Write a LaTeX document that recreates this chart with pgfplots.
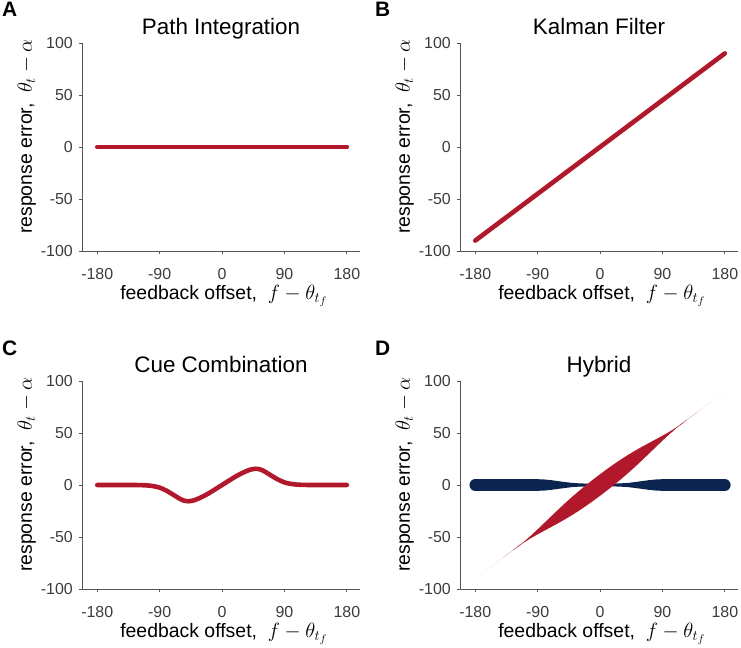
\documentclass[border=0pt]{standalone}
\usepackage{fontspec}
\setmainfont{Liberation Sans}
\usepackage{pgfplots}
\pgfplotsset{compat=1.18}
\definecolor{pred}{RGB}{178,24,43}
\definecolor{pnavy}{RGB}{12,36,80}
\definecolor{axgray}{RGB}{85,85,85}
\definecolor{tkgray}{RGB}{60,60,60}
\pgfplotsset{
  panel/.style={
    width=278bp, height=208bp, scale only axis,
    xmin=-202, xmax=199, ymin=-100, ymax=100,
    axis x line*=bottom, axis y line*=left,
    axis line style={draw=axgray, line width=0.75bp, -},
    xtick={-180,-90,0,90,180}, xticklabels={-180,-90,0,90,180},
    ytick={-100,-50,0,50,100}, yticklabels={-100,-50,0,50,100},
    tick align=outside, major tick length=3.3bp,
    tick style={draw=axgray, line width=0.75bp},
    xticklabel style={font=\fontsize{16}{16}\selectfont, text=tkgray, anchor=base, inner sep=0pt, yshift=-24.7bp},
    yticklabel style={font=\fontsize{16}{16}\selectfont, text=tkgray, anchor=east, inner sep=0pt, xshift=-5.7bp},
    xlabel={feedback offset,\ \ {\fontsize{22}{22}\selectfont$f-\theta_{t_f}$}},
    ylabel={response error,\ \ {\fontsize{22}{22}\selectfont$\theta_t-\alpha$}},
    xlabel style={font=\fontsize{19.5}{19.5}\selectfont, at={(axis description cs:0.51,-0.231)}, anchor=base, inner sep=0pt},
    ylabel style={font=\fontsize{19.5}{19.5}\selectfont, at={(axis description cs:-0.1799,0.55)}, anchor=base, inner sep=0pt},
    title style={font=\fontsize{22.5}{22.5}\selectfont, at={(axis description cs:0.5,1)}, anchor=base, yshift=2.5bp, inner sep=0pt},
    clip=false,
  },
  redline/.style={draw=pred, line width=4.6bp, line cap=round, no markers},
  tail/.style={draw=pred, no markers},
}
\begin{document}
\begin{tikzpicture}
\useasboundingbox (0,0) rectangle (741bp,-648bp);
% A
\begin{axis}[panel, at={(82bp,-251bp)}, anchor=south west, title={Path Integration}]
\addplot[redline] coordinates {(-180,0) (180,0)};
\end{axis}
% B
\begin{axis}[panel, at={(460bp,-251bp)}, anchor=south west, title={Kalman Filter}]
\addplot[redline] coordinates {(-180,-90) (180,90)};
\end{axis}
% C
\begin{axis}[panel, at={(82bp,-589bp)}, anchor=south west, title={Cue Combination}]
\addplot[redline, smooth] coordinates {
(-180,0) (-130,0) (-120,-0.1) (-110,-0.3) (-100,-1.0) (-90,-2.5) (-80,-5.5) (-70,-9.5)
(-60,-13.6) (-55,-15) (-48,-15.6) (-40,-14.6) (-30,-11.8) (-20,-8.3) (-10,-4.2) (0,0)
(10,4.2) (20,8.3) (30,11.8) (40,14.6) (48,15.6) (55,15) (60,13.6) (70,9.5) (80,5.5)
(90,2.5) (100,1.0) (110,0.3) (120,0.1) (130,0) (180,0)};
\end{axis}
% D
\begin{axis}[panel, at={(460bp,-589bp)}, anchor=south west, title={Hybrid}]
\addplot[draw=pnavy, line width=11.6bp, line cap=round, no markers] coordinates {(-180,0) (-150,0)};
\addplot[draw=pnavy, line width=11.6bp, line cap=round, no markers] coordinates {(150,0) (180,0)};
\addplot[fill=pnavy, draw=none, no markers] coordinates {
(-180,5.6) (-90,5.6) (-80,5.3) (-70,4.6) (-60,3.7) (-50,2.8) (-40,2.0) (-30,1.6) (-20,1.35) (-10,1.2)
(0,1.2) (10,1.2) (20,1.35) (30,1.6) (40,2.0) (50,2.8) (60,3.7) (70,4.6) (80,5.3) (90,5.6) (180,5.6)
(180,-5.6) (90,-5.6) (80,-5.3) (70,-4.6) (60,-3.7) (50,-2.8) (40,-2.0) (30,-1.6) (20,-1.35) (10,-1.2)
(0,-1.2) (-10,-1.2) (-20,-1.35) (-30,-1.6) (-40,-2.0) (-50,-2.8) (-60,-3.7) (-70,-4.6) (-80,-5.3) (-90,-5.6) (-180,-5.6)} -- cycle;
% faint tails of the red band
\addplot[tail, draw opacity=0.06, line width=0.4bp] coordinates {(-180,-90) (-160,-80)};
\addplot[tail, draw opacity=0.12, line width=0.5bp] coordinates {(-160,-80) (-140,-70)};
\addplot[tail, draw opacity=0.25, line width=0.7bp] coordinates {(-140,-70) (-125,-62.5)};
\addplot[tail, draw opacity=0.5, line width=0.9bp] coordinates {(-125,-62.5) (-115,-57.5)};
\addplot[tail, draw opacity=0.06, line width=0.4bp] coordinates {(180,90) (160,80)};
\addplot[tail, draw opacity=0.12, line width=0.5bp] coordinates {(160,80) (140,70)};
\addplot[tail, draw opacity=0.25, line width=0.7bp] coordinates {(140,70) (125,62.5)};
\addplot[tail, draw opacity=0.5, line width=0.9bp] coordinates {(125,62.5) (115,57.5)};
\addplot[fill=pred, draw=none, no markers] coordinates {
(-120,-59.9) (-110,-54.6) (-100,-48.8) (-90,-42.6) (-80,-36.2) (-70,-29.8) (-60,-23.4) (-50,-17.2)
(-40,-11.2) (-30,-5.5) (-20,0) (-10,5.3) (0,10.4) (10,15.3) (20,20) (30,24.5) (40,28.8) (50,32.8)
(60,36.6) (70,40.2) (80,43.8) (90,47.4) (100,51.2) (110,55.4) (120,60.1)
(120,59.9) (110,54.6) (100,48.8) (90,42.6) (80,36.2) (70,29.8) (60,23.4) (50,17.2) (40,11.2)
(30,5.5) (20,0) (10,-5.3) (0,-10.4) (-10,-15.3) (-20,-20) (-30,-24.5) (-40,-28.8) (-50,-32.8)
(-60,-36.6) (-70,-40.2) (-80,-43.8) (-90,-47.4) (-100,-51.2) (-110,-55.4) (-120,-60.1)} -- cycle;
\end{axis}
\node[anchor=base west, inner sep=0pt, font=\bfseries\fontsize{21}{21}\selectfont] at (2bp,-16.7bp) {A};
\node[anchor=base west, inner sep=0pt, font=\bfseries\fontsize{21}{21}\selectfont] at (375bp,-16.7bp) {B};
\node[anchor=base west, inner sep=0pt, font=\bfseries\fontsize{21}{21}\selectfont] at (2bp,-355bp) {C};
\node[anchor=base west, inner sep=0pt, font=\bfseries\fontsize{21}{21}\selectfont] at (375bp,-355bp) {D};
\end{tikzpicture}
\end{document}
